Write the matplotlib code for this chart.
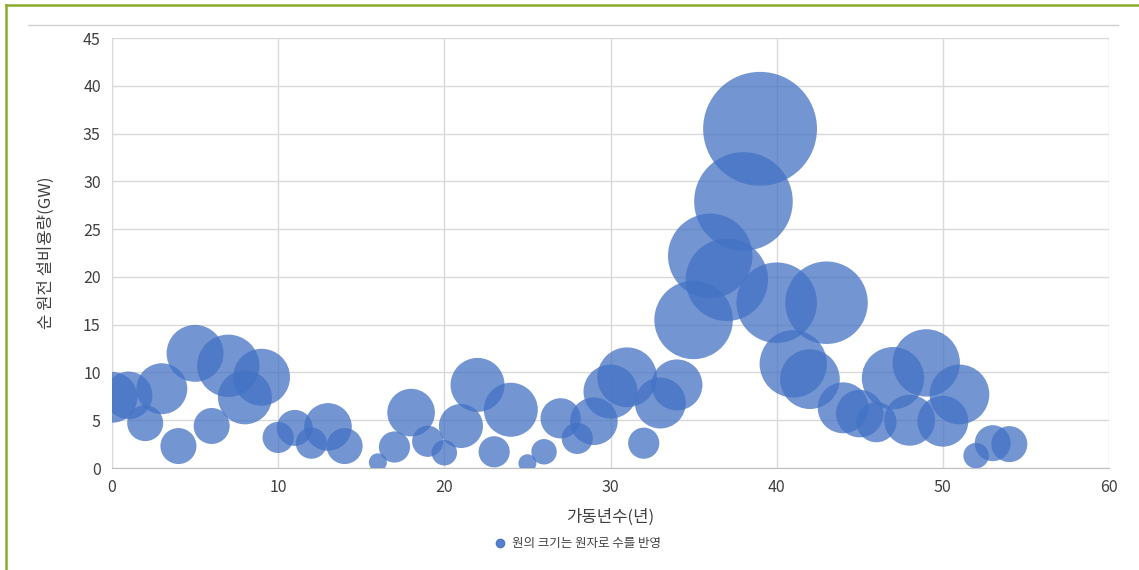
import matplotlib
matplotlib.use('Agg')
import matplotlib.pyplot as plt
import numpy as np
from matplotlib.lines import Line2D

plt.rcParams['font.family'] = ['Noto Sans CJK KR', 'DejaVu Sans']

# operating years, net capacity (GW), number of reactors (bubble size)
years = [0, 1, 2, 3, 4, 5, 6, 7, 8, 9, 10, 11, 12, 13, 14, 16, 17, 18, 19,
         20, 21, 22, 23, 24, 25, 26, 27, 28, 29, 30, 31, 32, 33, 34, 35, 36,
         37, 38, 39, 40, 41, 42, 43, 44, 45, 46, 47, 48, 49, 50, 51, 52, 53, 54]
capacity = [7.4, 7.6, 4.7, 8.3, 2.3, 12.0, 4.4, 10.7, 7.4, 9.5, 3.2, 4.2, 2.6,
            4.3, 2.3, 0.6, 2.2, 5.8, 2.8, 1.6, 4.4, 8.7, 1.7, 6.1, 0.5, 1.7,
            5.2, 3.1, 4.9, 8.0, 9.5, 2.6, 6.8, 8.7, 15.5, 22.2, 19.7, 27.9,
            35.5, 17.3, 10.9, 9.3, 17.3, 6.3, 5.7, 4.8, 9.4, 5.0, 11.0, 4.9,
            7.7, 1.3, 2.6, 2.5]
reactors = [8, 7, 4, 8, 4, 10, 4, 12, 9, 10, 3, 4, 3, 7, 4, 1, 3, 7, 3, 2, 6,
            9, 3, 9, 1, 2, 5, 3, 7, 9, 11, 3, 8, 8, 19, 22, 21, 30, 40, 20, 14,
            11, 21, 8, 7, 5, 12, 8, 14, 8, 11, 2, 4, 4]

x_label = '가동년수(년)'
y_label = '순 원전 설비용량(GW)'
legend_label = '원의 크기는 원자로 수를 반영'

fig = plt.figure(figsize=(11.39, 5.70), dpi=100)
ax = fig.add_axes([0.0983, 0.1789, 0.8754, 0.7544])

bubble_color = '#4472C4'
ax.scatter(years, capacity, s=np.array(reactors) * 168, color=bubble_color,
           alpha=0.75, linewidths=0, zorder=3)

ax.set_xlim(0, 60)
ax.set_ylim(0, 45)
ax.set_xticks(range(0, 61, 10))
ax.set_yticks(range(0, 46, 5))
ax.grid(True, color='#d9d9d9', linewidth=1)
ax.set_axisbelow(True)
for side in ['top', 'right']:
    ax.spines[side].set_visible(False)
ax.spines['left'].set_color('#d9d9d9')
ax.spines['bottom'].set_color('#bfbfbf')
ax.tick_params(length=0, labelsize=11.5, colors='#404040', pad=8)

ax.set_xlabel(x_label, fontsize=12, color='#404040', labelpad=9)
ax.set_ylabel(y_label, fontsize=12, color='#404040', labelpad=20)

handle = Line2D([], [], marker='o', linestyle='', color=bubble_color,
                alpha=0.9, markersize=6)
fig.legend([handle], [legend_label], loc='center', bbox_to_anchor=(0.504, 0.046),
           frameon=False, fontsize=9, handletextpad=0.0, labelcolor='#404040')

# frame lines of the screenshot
fig.add_artist(Line2D([6 / 1139, 6 / 1139], [0, 1 - 5 / 570],
                      color='#8aac2a', linewidth=1.8))
fig.add_artist(Line2D([6 / 1139, 1], [1 - 5 / 570, 1 - 5 / 570],
                      color='#8aac2a', linewidth=1.8))
fig.add_artist(Line2D([28 / 1139, 1118 / 1139], [1 - 25 / 570, 1 - 25 / 570],
                      color='#d0d0d0', linewidth=1))

fig.savefig('out.png', dpi=100)
